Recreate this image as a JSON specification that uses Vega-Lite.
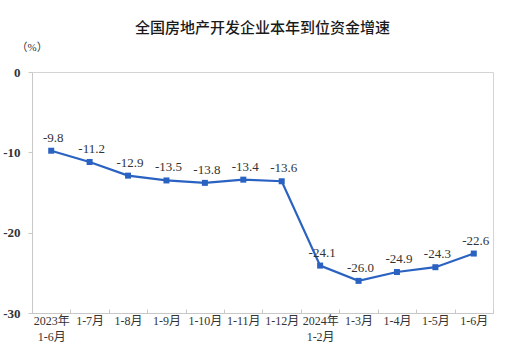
{
  "$schema": "https://vega.github.io/schema/vega-lite/v6.json",
  "width": 461,
  "height": 241,
  "autosize": {"type": "none"},
  "padding": {"left": 32, "top": 72, "right": 14, "bottom": 48},
  "background": "white",
  "title": {
    "text": "全国房地产开发企业本年到位资金增速",
    "font": "Noto Sans CJK SC",
    "fontSize": 15,
    "fontWeight": 500,
    "color": "#1a1a1a",
    "anchor": "middle",
    "offset": 5
  },
  "config": {
    "locale": {"number": {"decimal": ".", "thousands": ",", "grouping": [3], "currency": ["$", ""], "minus": "-"}},
    "view": {"stroke": "#d4d4d4", "strokeWidth": 1},
    "axis": {"grid": false, "domainColor": "#c8c8c8", "tickColor": "#c8c8c8"}
  },
  "data": {
    "values": [
      {"period": "2023年\n1-6月", "value": -9.8},
      {"period": "1-7月", "value": -11.2},
      {"period": "1-8月", "value": -12.9},
      {"period": "1-9月", "value": -13.5},
      {"period": "1-10月", "value": -13.8},
      {"period": "1-11月", "value": -13.4},
      {"period": "1-12月", "value": -13.6},
      {"period": "2024年\n1-2月", "value": -24.1},
      {"period": "1-3月", "value": -26.0},
      {"period": "1-4月", "value": -24.9},
      {"period": "1-5月", "value": -24.3},
      {"period": "1-6月", "value": -22.6}
    ]
  },
  "encoding": {
    "x": {
      "field": "period",
      "type": "ordinal",
      "sort": null,
      "scale": {"paddingInner": 0, "paddingOuter": 0},
      "axis": {
        "title": null,
        "labelAngle": 0,
        "labelExpr": "split(datum.label, '\\n')",
        "labelFont": "Liberation Serif, Noto Sans CJK SC",
        "labelFontSize": 12,
        "labelColor": "#333333",
        "labelPadding": 6,
        "labelLineHeight": 16,
        "labelBaseline": "top",
        "tickBand": "extent",
        "tickSize": -4,
        "ticks": true
      }
    },
    "y": {
      "field": "value",
      "type": "quantitative",
      "scale": {"domain": [-30, 0], "nice": false},
      "axis": {
        "values": [-30, -20, -10, 0],
        "title": "（%）",
        "titleAngle": 0,
        "titleAlign": "left",
        "titleBaseline": "middle",
        "titleX": -16,
        "titleY": -25,
        "titleFont": "Liberation Serif, Noto Sans CJK SC",
        "titleFontSize": 11,
        "titleFontWeight": "normal",
        "titleColor": "#333333",
        "labelFont": "Liberation Serif",
        "labelFontSize": 13,
        "labelFontWeight": "bold",
        "labelColor": "#333333",
        "labelPadding": 8,
        "tickSize": 4
      }
    }
  },
  "layer": [
    {
      "mark": {"type": "line", "color": "#2a62c2", "strokeWidth": 2.2}
    },
    {
      "mark": {"type": "square", "color": "#2a62c2", "size": 36, "opacity": 1}
    },
    {
      "mark": {"type": "text", "dy": -13, "dx": 2, "font": "Liberation Serif", "fontSize": 13, "color": "#333333"},
      "encoding": {"text": {"field": "value", "type": "quantitative", "format": ".1f"}}
    }
  ]
}
